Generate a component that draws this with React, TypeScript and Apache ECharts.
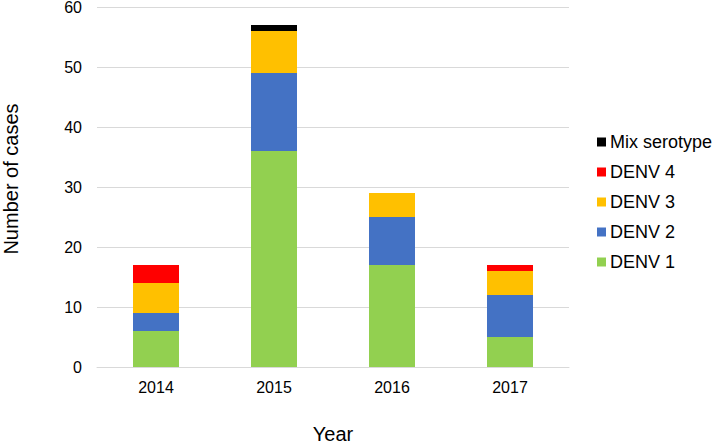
import React, { useEffect, useRef } from "react";
import * as echarts from "echarts";

const years = ["2014", "2015", "2016", "2017"];
const denv1 = [6, 36, 17, 5];
const denv2 = [3, 13, 8, 7];
const denv3 = [5, 7, 4, 4];
const denv4 = [3, null, null, 1];
const mix = [null, 1, null, null];
const seriesNames = ["DENV 1", "DENV 2", "DENV 3", "DENV 4", "Mix serotype"];
const seriesColors = ["#92d050", "#4472c4", "#ffc000", "#ff0000", "#000000"];

const FONT = "'Liberation Sans', Arial, sans-serif";

export default function App() {
  const ref = useRef<HTMLDivElement>(null);
  useEffect(() => {
    if (!ref.current) return;
    const chart = echarts.init(ref.current, undefined, { renderer: "svg" });
    const values = [denv1, denv2, denv3, denv4, mix];
    chart.setOption({
      animation: false,
      textStyle: { fontFamily: FONT },
      grid: { left: 97, right: 145, top: 7, bottom: 79, outerBoundsMode: "none", containLabel: false },
      legend: {
        orient: "vertical",
        left: 597,
        top: 133,
        padding: 0,
        itemWidth: 9,
        itemHeight: 9,
        itemGap: 12,
        icon: "rect",
        data: [...seriesNames].reverse(),
        textStyle: { fontSize: 18, color: "#000", fontFamily: FONT, padding: [0, 0, 0, -1] },
      },
      xAxis: {
        type: "category",
        data: years,
        name: "Year",
        nameLocation: "middle",
        nameGap: 57,
        nameTextStyle: { fontSize: 20, color: "#000", fontFamily: FONT },
        axisLine: { lineStyle: { color: "#d9d9d9", width: 1 } },
        axisTick: { show: false },
        axisLabel: { fontSize: 16, color: "#000", margin: 12, fontFamily: FONT },
      },
      yAxis: {
        type: "value",
        min: 0,
        max: 60,
        interval: 10,
        name: "Number of cases",
        nameLocation: "middle",
        nameGap: 76,
        nameTextStyle: { fontSize: 20, color: "#000", fontFamily: FONT, padding: [0, 0, 0, 16] },
        axisLine: { show: false },
        axisTick: { show: false },
        splitLine: { lineStyle: { color: "#d9d9d9", width: 1 } },
        axisLabel: { fontSize: 16, color: "#000", margin: 15, fontFamily: FONT },
      },
      series: seriesNames.map((name, i) => ({
        name,
        type: "bar",
        stack: "total",
        barWidth: 46,
        data: values[i],
        itemStyle: { color: seriesColors[i] },
      })),
    });
    return () => chart.dispose();
  }, []);
  return <div ref={ref} style={{ width: 714, height: 446, position: "absolute", left: 0, top: 0 }} />;
}
